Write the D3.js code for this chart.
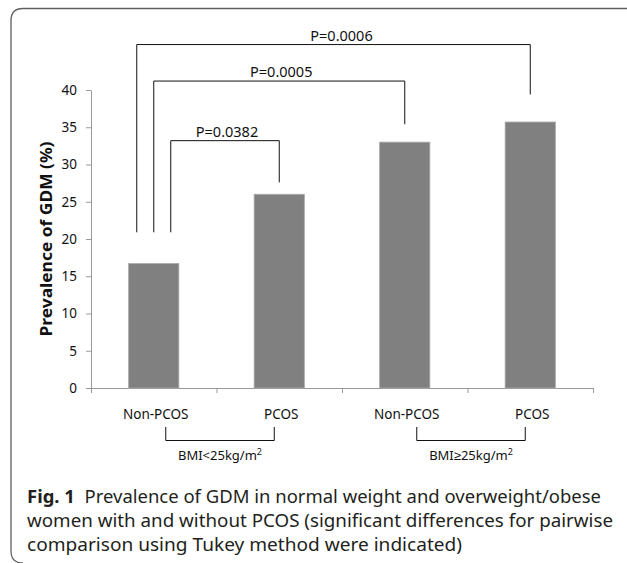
<!DOCTYPE html>
<html>
<head>
<meta charset="utf-8">
<script src="https://cdn.jsdelivr.net/npm/d3@7"></script>
<style>
  body { margin: 0; background: #fff; }
  svg { display: block; }
</style>
</head>
<body>
<div id="gdm_chart"></div>
<script>
// data
var pcosLabels = ["Non-PCOS", "PCOS", "Non-PCOS", "PCOS"];
var gdmValues = [16.7, 26.0, 33.0, 35.7];
var bmiGroups = ["BMI<25kg/m", "BMI\u226525kg/m"];   // superscript 2 added when drawn
var yTicks = [0, 5, 10, 15, 20, 25, 30, 35, 40];

// pairwise comparisons (bar index -> bar index) and the heights of their brackets, in % units
var compFrom = [0, 0, 0];
var compTo = [1, 2, 3];
var compP = ["P=0.0382", "P=0.0005", "P=0.0006"];
var compTop = [33.2, 41.2, 46.1];
var compRightEnd = [27.6, 35.4, 39.4];
var compLeftEnd = 20.9;

var captionLines = [
  "Prevalence of GDM in normal weight and overweight/obese",
  "women with and without PCOS (significant differences for pairwise",
  "comparison using Tukey method were indicated)"
];

var W = 627, H = 563;
var plot = {left: 91, right: 593, top: 90, bottom: 388};

var svg = d3.select("#gdm_chart")
  .append("svg")
    .attr("width", W)
    .attr("height", H);

// panel frame (only top and left edges visible, rounded corners)
svg.append("path")
  .attr("d", "M627,8.5 H23 Q11,8.5 11,20.5 V551 Q11,563 23,563")
  .attr("fill", "none")
  .attr("stroke", "#5f5f5f")
  .attr("stroke-width", 1.3);

var idx = d3.range(pcosLabels.length);

// scales
var x = d3.scaleBand()
  .domain(idx)
  .range([plot.left, plot.right])
  .paddingInner(0.6)
  .paddingOuter(0.3);

var xEdge = d3.scaleLinear()
  .domain([0, pcosLabels.length])
  .range([plot.left, plot.right]);

var y = d3.scaleLinear()
  .domain([0, 40])
  .range([plot.bottom, plot.top]);

var cx = function(i) { return x(i) + x.bandwidth() / 2; };

// y axis
var yAxis = svg.append("g")
  .attr("transform", "translate(" + plot.left + ",0)")
  .call(d3.axisLeft(y).tickValues(yTicks).tickSize(5).tickSizeOuter(0).tickPadding(9));
yAxis.select(".domain").attr("stroke", "#9a9a9a");
yAxis.selectAll(".tick line").attr("stroke", "#9a9a9a");
yAxis.selectAll(".tick text")
  .style("font-family", "'Noto Sans', sans-serif")
  .style("font-size", "13.5px")
  .attr("fill", "#111");

// x axis (ticks between categories)
var xAxis = svg.append("g")
  .attr("transform", "translate(0," + plot.bottom + ")")
  .call(d3.axisBottom(xEdge).tickValues(d3.range(pcosLabels.length + 1)).tickFormat("").tickSize(5).tickSizeOuter(0));
xAxis.select(".domain").attr("stroke", "#9a9a9a");
xAxis.selectAll(".tick line").attr("stroke", "#9a9a9a");

// y axis title
svg.append("text")
  .attr("transform", "translate(52,239)rotate(-90)")
  .attr("text-anchor", "middle")
  .style("font-family", "'Noto Sans', sans-serif")
  .style("font-size", "16px")
  .style("font-weight", "bold")
  .attr("fill", "#111")
  .attr("textLength", 195)
  .attr("lengthAdjust", "spacingAndGlyphs")
  .text("Prevalence of GDM (%)");

// bars
svg.selectAll(".bar")
  .data(idx)
  .enter()
  .append("rect")
    .attr("class", "bar")
    .attr("x", function(i) { return x(i); })
    .attr("y", function(i) { return y(gdmValues[i]); })
    .attr("width", x.bandwidth())
    .attr("height", function(i) { return y(0) - y(gdmValues[i]); })
    .attr("fill", "#808080")
    .attr("stroke", "#a8a8a8")
    .attr("stroke-width", 0.8);

// category labels
svg.selectAll(".catlab")
  .data(idx)
  .enter()
  .append("text")
    .attr("class", "catlab")
    .attr("x", function(i) { return cx(i) + 2; })
    .attr("y", 419)
    .attr("text-anchor", "middle")
    .style("font-family", "'Noto Sans', sans-serif")
    .style("font-size", "13.5px")
    .attr("fill", "#111")
    .text(function(i) { return pcosLabels[i]; });

// BMI group brackets under the axis
bmiGroups.forEach(function(g, k) {
  var x0 = cx(2 * k) + 12, x1 = cx(2 * k + 1) - 5;
  svg.append("path")
    .attr("d", "M" + x0 + ",427 V440.5 H" + x1 + " V427")
    .attr("fill", "none")
    .attr("stroke", "#111")
    .attr("stroke-width", 1);
  var t = svg.append("text")
    .attr("x", (x0 + x1) / 2)
    .attr("y", 460)
    .attr("text-anchor", "middle")
    .style("font-family", "'Noto Sans', sans-serif")
    .style("font-size", "13px")
    .attr("fill", "#111");
  t.append("tspan").text(g);
  t.append("tspan")
    .attr("dy", -5)
    .style("font-size", "9px")
    .text("2");
});

// significance brackets
var leftShift = [17, 0, -17];
compP.forEach(function(p, k) {
  var xl = cx(compFrom[k]) + leftShift[k];
  var xr = cx(compTo[k]);
  var yt = y(compTop[k]);
  svg.append("path")
    .attr("d", "M" + xl + "," + y(compLeftEnd) + " V" + yt + " H" + xr + " V" + y(compRightEnd[k]))
    .attr("fill", "none")
    .attr("stroke", "#111")
    .attr("stroke-width", 1);
  svg.append("text")
    .attr("x", (xl + xr) / 2 + (k == 2 ? 8 : 2))
    .attr("y", yt - 4)
    .attr("text-anchor", "middle")
    .style("font-family", "'Noto Sans', sans-serif")
    .style("font-size", "14.5px")
    .attr("fill", "#111")
    .text(p);
});

// caption
var capX = 27;
var capBase = [503, 527, 551];
var capEnd = [601, 613, 462];
captionLines.forEach(function(line, k) {
  var t = svg.append("text")
    .attr("x", capX)
    .attr("y", capBase[k])
    .style("font-family", "'Noto Sans', sans-serif")
    .style("font-size", "17.5px")
    .attr("fill", "#231f20")
    .attr("textLength", capEnd[k] - capX)
    .attr("lengthAdjust", "spacingAndGlyphs");
  if (k == 0) {
    t.append("tspan").style("font-weight", "bold").text("Fig. 1");
    t.append("tspan").attr("xml:space", "preserve").text("  " + line);
  } else {
    t.text(line);
  }
});
</script>
</body>
</html>
